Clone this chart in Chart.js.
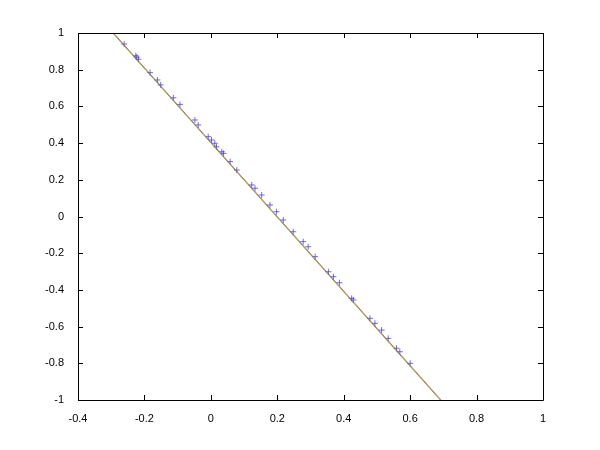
<!DOCTYPE html>
<html>
 <head>
  <meta charset="utf-8">
  <title>Line fit</title>
  <script src="https://cdn.jsdelivr.net/npm/chart.js"></script>
  <style>
   body { margin: 0; background: #ffffff; }
  </style>
 </head>
 <body>
  <canvas id="myChart" width="600" height="450"></canvas>
  <script type="text/javascript">
    // measured points (blue +)
    var ptX = [-0.261, -0.226, -0.223, -0.218, -0.183, -0.161, -0.151, -0.113, -0.093, -0.048,
               -0.038, -0.008, 0.002, 0.012, 0.017, 0.033, 0.038, 0.058, 0.078, 0.123,
               0.133, 0.153, 0.178, 0.198, 0.218, 0.248, 0.278, 0.293, 0.314, 0.354,
               0.369, 0.387, 0.424, 0.429, 0.479, 0.494, 0.514, 0.534, 0.559, 0.569, 0.600];
    var ptY = [0.940, 0.876, 0.868, 0.857, 0.784, 0.744, 0.717, 0.647, 0.611, 0.526,
               0.499, 0.435, 0.417, 0.399, 0.380, 0.353, 0.344, 0.299, 0.253, 0.172,
               0.154, 0.117, 0.063, 0.026, -0.019, -0.083, -0.137, -0.165, -0.219, -0.301,
               -0.328, -0.361, -0.446, -0.455, -0.555, -0.582, -0.619, -0.664, -0.718, -0.737, -0.800];

    // two fitted lines, end points
    var lineX = [-0.4, 1];
    var greenY = [1.212, -1.628];
    var redY = [1.217, -1.622];

    var xTicks = [-0.4, -0.2, 0, 0.2, 0.4, 0.6, 0.8, 1];
    var yTicks = [-1, -0.8, -0.6, -0.4, -0.2, 0, 0.2, 0.4, 0.6, 0.8, 1];

    function toPts(xs, ys) {
        return xs.map(function (x, i) { return { x: x, y: ys[i] }; });
    }

    // box + inward ticks like matlab
    var boxPlugin = {
        id: 'box',
        afterDraw: function (chart) {
            var c = chart.ctx, a = chart.chartArea;
            var xs = chart.scales.x, ys = chart.scales.y;
            c.save();
            c.strokeStyle = '#000000';
            c.lineWidth = 1;
            c.beginPath();
            c.rect(Math.round(a.left) + 0.5, Math.round(a.top) + 0.5,
                   Math.round(a.right - a.left), Math.round(a.bottom - a.top));
            xTicks.forEach(function (t) {
                var p = Math.round(xs.getPixelForValue(t)) + 0.5;
                c.moveTo(p, a.bottom); c.lineTo(p, a.bottom - 5);
                c.moveTo(p, a.top); c.lineTo(p, a.top + 5);
            });
            yTicks.forEach(function (t) {
                var p = Math.round(ys.getPixelForValue(t)) + 0.5;
                c.moveTo(a.left, p); c.lineTo(a.left + 5, p);
                c.moveTo(a.right, p); c.lineTo(a.right - 5, p);
            });
            c.stroke();
            c.restore();
        }
    };

    var ctx = document.getElementById('myChart').getContext('2d');
    var myChart = new Chart(ctx, {
        type: 'scatter',
        data: {
            datasets: [
                {
                    label: 'red',
                    data: toPts(lineX, redY),
                    showLine: true,
                    borderColor: 'rgba(220,60,40,0.75)',
                    borderWidth: 1,
                    pointRadius: 0
                },
                {
                    label: 'green',
                    data: toPts(lineX, greenY),
                    showLine: true,
                    borderColor: 'rgba(40,170,40,0.75)',
                    borderWidth: 1,
                    pointRadius: 0
                },
                {
                    label: 'data',
                    data: toPts(ptX, ptY),
                    pointStyle: 'cross',
                    pointRadius: 3,
                    borderColor: 'rgba(50,50,230,0.7)',
                    borderWidth: 1,
                    backgroundColor: 'rgba(50,50,230,0.7)'
                }
            ]
        },
        options: {
            responsive: false,
            animation: false,
            layout: { padding: { left: 0, top: 33, right: 57, bottom: 0 } },
            plugins: { legend: { display: false }, tooltip: { enabled: false } },
            scales: {
                x: {
                    type: 'linear',
                    min: -0.4, max: 1,
                    grid: { display: false },
                    border: { display: false },
                    afterFit: function (s) { s.height = 50; },
                    afterBuildTicks: function (s) { s.ticks = xTicks.map(function (v) { return { value: v }; }); },
                    ticks: {
                        color: '#000000',
                        padding: 4,
                        maxRotation: 0,
                        font: { family: 'Liberation Sans', size: 11 },
                        callback: function (v) { return String(v); }
                    }
                },
                y: {
                    type: 'linear',
                    min: -1, max: 1,
                    grid: { display: false },
                    border: { display: false },
                    afterFit: function (s) { s.width = 78; },
                    afterBuildTicks: function (s) { s.ticks = yTicks.map(function (v) { return { value: v }; }); },
                    ticks: {
                        color: '#000000',
                        padding: 6,
                        font: { family: 'Liberation Sans', size: 11 },
                        callback: function (v) { return String(v); }
                    }
                }
            }
        },
        plugins: [boxPlugin]
    });
  </script>
 </body>
</html>
